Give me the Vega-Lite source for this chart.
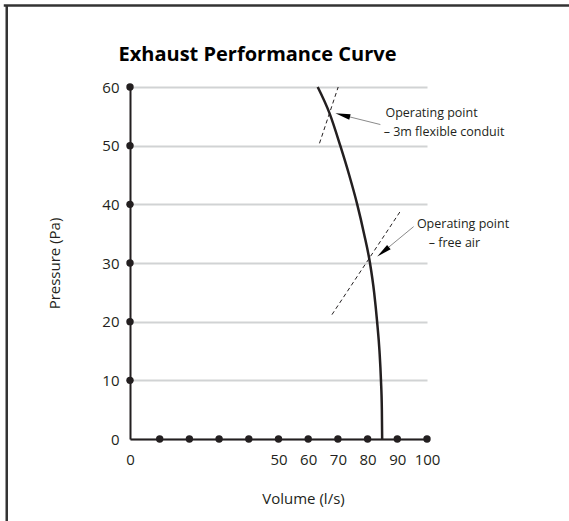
{
  "$schema": "https://vega.github.io/schema/vega-lite/v6.json",
  "autosize": "none",
  "width": 297,
  "height": 352,
  "padding": {"left": 130, "top": 87, "right": 142, "bottom": 82},
  "background": "white",
  "config": {
    "font": "Open Sans",
    "view": {"stroke": null},
    "axis": {"labelOverlap": false, "labelSeparation": 0},
    "axisQuantitative": {"labelOverlap": false}
  },
  "title": {
    "text": "Exhaust Performance Curve",
    "font": "Open Sans",
    "fontSize": 20,
    "fontWeight": "bold",
    "color": "#000000",
    "anchor": "middle",
    "frame": "group",
    "dx": -21,
    "offset": -61
  },
  "datasets": {
    "curve": [
      {"volume": 63.2, "pressure": 60},
      {"volume": 67.2, "pressure": 55.5},
      {"volume": 70.8, "pressure": 50},
      {"volume": 73.8, "pressure": 45},
      {"volume": 76.5, "pressure": 40},
      {"volume": 78.8, "pressure": 35},
      {"volume": 80.8, "pressure": 30},
      {"volume": 82.2, "pressure": 25},
      {"volume": 83.2, "pressure": 20},
      {"volume": 84.0, "pressure": 15},
      {"volume": 84.5, "pressure": 10},
      {"volume": 84.8, "pressure": 5},
      {"volume": 84.9, "pressure": 0}
    ],
    "dots": [
      {"volume": 10, "pressure": 0}, {"volume": 20, "pressure": 0}, {"volume": 30, "pressure": 0},
      {"volume": 40, "pressure": 0}, {"volume": 50, "pressure": 0}, {"volume": 60, "pressure": 0},
      {"volume": 70, "pressure": 0}, {"volume": 80, "pressure": 0}, {"volume": 90, "pressure": 0},
      {"volume": 100, "pressure": 0},
      {"volume": 0, "pressure": 10}, {"volume": 0, "pressure": 20}, {"volume": 0, "pressure": 30},
      {"volume": 0, "pressure": 40}, {"volume": 0, "pressure": 50}, {"volume": 0, "pressure": 60}
    ],
    "dashed": [
      {"line": "conduit", "volume": 70.1, "pressure": 60},
      {"line": "conduit", "volume": 63.8, "pressure": 50.4},
      {"line": "free", "volume": 91.0, "pressure": 38.8},
      {"line": "free", "volume": 68.0, "pressure": 21.2}
    ],
    "arrows": [
      {"point": "conduit", "volume": 84.3, "pressure": 53.6, "volume2": 71.6, "pressure2": 55.2},
      {"point": "free", "volume": 95.5, "pressure": 36.2, "volume2": 85.2, "pressure2": 31.9}
    ],
    "heads": [
      {"point": "conduit", "volume": 71.6, "pressure": 55.2},
      {"point": "free", "volume": 85.2, "pressure": 31.9}
    ],
    "labels": [
      {"volume": 86.0, "pressure": 55.5, "text": "Operating point"},
      {"volume": 85.4, "pressure": 52.35, "text": "– 3m flexible conduit"},
      {"volume": 96.6, "pressure": 36.6, "text": "Operating point"},
      {"volume": 100.6, "pressure": 33.4, "text": "– free air"}
    ]
  },
  "layer": [
    {
      "data": {"name": "curve"},
      "mark": {"type": "line", "color": "#231f20", "strokeWidth": 2.5, "interpolate": "monotone", "clip": false},
      "encoding": {
        "x": {
          "field": "volume", "type": "quantitative",
          "scale": {"domain": [0, 100], "nice": false, "zero": false},
          "axis": {
            "title": "Volume (l/s)",
            "values": [0, 50, 60, 70, 80, 90, 100],
            "labelOverlap": false,
            "ticks": false, "grid": false,
            "domainColor": "#231f20", "domainWidth": 2,
            "labelFontSize": 15, "labelPadding": 13, "labelColor": "#231f20",
            "labelFont": "Open Sans", "labelFlush": false,
            "titleFont": "Open Sans", "titleFontSize": 15, "titleFontWeight": "normal",
            "titleColor": "#231f20", "titlePadding": 24, "titleX": 173
          }
        },
        "y": {
          "field": "pressure", "type": "quantitative",
          "scale": {"domain": [0, 60], "nice": false, "zero": false},
          "axis": {
            "title": "Pressure (Pa)",
            "values": [0, 10, 20, 30, 40, 50, 60],
            "labelOverlap": false,
            "ticks": false, "grid": true, "gridColor": "#d1d3d4", "gridWidth": 2,
            "domainColor": "#231f20", "domainWidth": 2,
            "labelFontSize": 15, "labelPadding": 11, "labelColor": "#231f20",
            "labelFont": "Open Sans", "labelFlush": false,
            "titleFont": "Open Sans", "titleFontSize": 15, "titleFontWeight": "normal",
            "titleColor": "#231f20", "titlePadding": 39
          }
        }
      }
    },
    {
      "data": {"name": "dots"},
      "mark": {"type": "point", "filled": true, "color": "#231f20", "size": 55, "opacity": 1, "clip": false},
      "encoding": {
        "x": {"field": "volume", "type": "quantitative"},
        "y": {"field": "pressure", "type": "quantitative"}
      }
    },
    {
      "data": {"name": "dashed"},
      "mark": {"type": "line", "color": "#231f20", "strokeWidth": 1, "strokeDash": [4, 3], "clip": false},
      "encoding": {
        "x": {"field": "volume", "type": "quantitative"},
        "y": {"field": "pressure", "type": "quantitative"},
        "detail": {"field": "line", "type": "nominal"}
      }
    },
    {
      "data": {"name": "arrows"},
      "mark": {"type": "rule", "color": "#8a8a8a", "strokeWidth": 1, "clip": false},
      "encoding": {
        "x": {"field": "volume", "type": "quantitative"},
        "y": {"field": "pressure", "type": "quantitative"},
        "x2": {"field": "volume2"},
        "y2": {"field": "pressure2"}
      }
    },
    {
      "data": {"name": "heads"},
      "transform": [{"filter": "datum.point == 'conduit'"}],
      "mark": {"type": "point", "filled": true, "color": "#000000", "opacity": 1, "size": 225, "angle": 284, "shape": "M0,-1L0.38,1L-0.38,1Z", "clip": false},
      "encoding": {
        "x": {"field": "volume", "type": "quantitative"},
        "y": {"field": "pressure", "type": "quantitative"}
      }
    },
    {
      "data": {"name": "heads"},
      "transform": [{"filter": "datum.point == 'free'"}],
      "mark": {"type": "point", "filled": true, "color": "#000000", "opacity": 1, "size": 225, "angle": 231, "shape": "M0,-1L0.38,1L-0.38,1Z", "clip": false},
      "encoding": {
        "x": {"field": "volume", "type": "quantitative"},
        "y": {"field": "pressure", "type": "quantitative"}
      }
    },
    {
      "data": {"name": "labels"},
      "mark": {"type": "text", "align": "left", "baseline": "middle", "font": "Open Sans", "fontSize": 12.5, "color": "#231f20", "clip": false},
      "encoding": {
        "x": {"field": "volume", "type": "quantitative"},
        "y": {"field": "pressure", "type": "quantitative"},
        "text": {"field": "text", "type": "nominal"}
      }
    },
    {
      "data": {"values": [{}]},
      "mark": {"type": "rule", "color": "#333333", "strokeWidth": 2.5, "clip": false},
      "encoding": {
        "x": {"datum": -42.5},
        "x2": {"datum": 150},
        "y": {"datum": 73.9}
      }
    },
    {
      "data": {"values": [{}]},
      "mark": {"type": "rule", "color": "#333333", "strokeWidth": 2.5, "clip": false},
      "encoding": {
        "x": {"datum": -41.5},
        "y": {"datum": 73.9},
        "y2": {"datum": -15}
      }
    }
  ]
}
